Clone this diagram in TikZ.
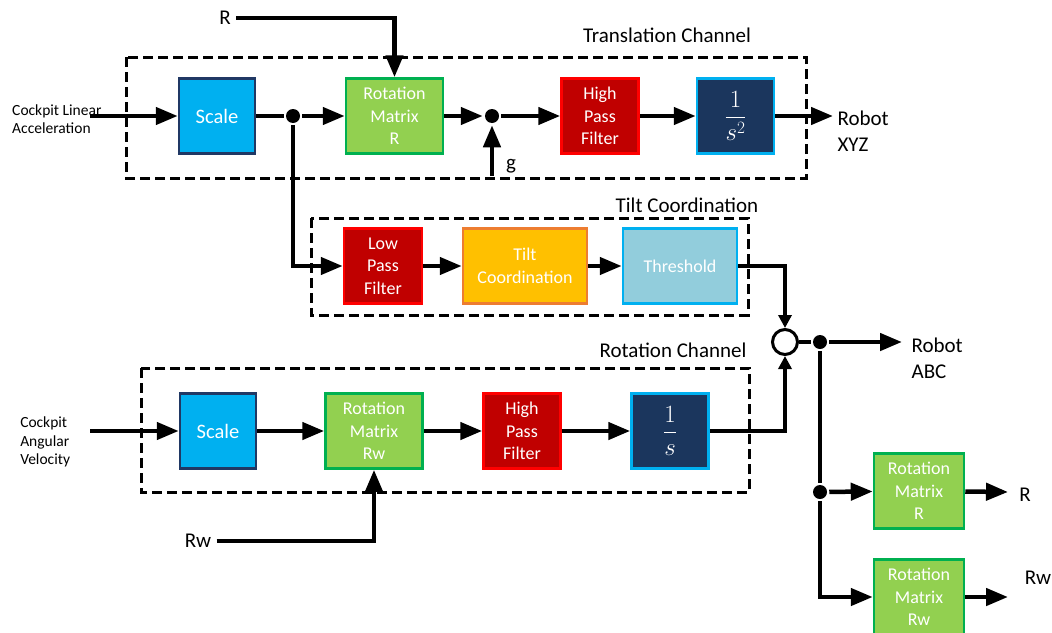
\documentclass[tikz,border=0pt]{standalone}
\usepackage{fontspec}
\setmainfont{Carlito}
\usetikzlibrary{arrows.meta}
\definecolor{scalefill}{HTML}{00B0F0}
\definecolor{scaleline}{HTML}{203864}
\definecolor{rotfill}{HTML}{92D050}
\definecolor{rotline}{HTML}{00B050}
\definecolor{passfill}{HTML}{C00000}
\definecolor{passline}{HTML}{FF0000}
\definecolor{intfill}{HTML}{1B365D}
\definecolor{intline}{HTML}{00B0F0}
\definecolor{tiltfill}{HTML}{FFC000}
\definecolor{tiltline}{HTML}{ED7D31}
\definecolor{thrfill}{HTML}{92CDDC}
\begin{document}
\begin{tikzpicture}[x=1pt, y=-1pt, line width=4.5pt,
	flow/.style={-{Triangle[length=22pt,width=17pt]}},
	flowsm/.style={-{Triangle[length=13pt,width=13pt]}},
	blk/.style={rectangle, draw, line width=2.5pt, text=white, align=center, inner sep=0pt, minimum height=75pt, font=\fontsize{18}{22.5}\selectfont},
	scl/.style={blk, fill=scalefill, draw=scaleline, minimum width=76pt, font=\fontsize{20.5}{24}\selectfont},
	rot/.style={blk, fill=rotfill, draw=rotline},
	pass/.style={blk, fill=passfill, draw=passline, minimum width=77pt},
	integ/.style={blk, fill=intfill, draw=intline, minimum width=77pt, font=\fontsize{25}{30}\selectfont},
	grp/.style={draw, line width=3pt, dash pattern=on 10pt off 5pt},
	dot/.style={circle, fill, inner sep=0pt, minimum size=14pt},
	lbl/.style={font=\fontsize{21}{26}\selectfont, align=left},
	inlbl/.style={font=\fontsize{15.5}{18.5}\selectfont, align=left, anchor=west, inner sep=0pt}]
	\useasboundingbox (0,0) rectangle (1052,632);

	% channels
	\draw[grp] (126,57) rectangle (806,178);
	\draw[grp] (311,218) rectangle (748,315);
	\draw[grp] (141,368) rectangle (749,492);
	\node (trlab) at (667,35)	[lbl]	{Translation Channel};
	\node (tclab) at (687,205)	[lbl]	{Tilt Coordination};
	\node (rclab) at (673,350)	[lbl]	{Rotation Channel};

	% translation channel
	\node (cla) at (10,119)	[inlbl]	{Cockpit Linear\\Acceleration};
	\coordinate (claend) at (90,116);
	\node (scT) at (217,116)	[scl]	{Scale};
	\node (jT) at (293,116)	[dot]	{};
	\node (rmR) at (394.5,116)	[rot, minimum width=97pt]	{Rotation\\Matrix\\R};
	\node (jG) at (492,116)	[dot]	{};
	\node (hpT) at (600,116)	[pass]	{High\\Pass\\Filter};
	\node (intT) at (735.5,116)	[integ]	{$\displaystyle\frac{1}{s^2}$};
	\node (Rtop) at (225,18)	[lbl]	{R};
	\node (g) at (511,166)	[lbl]	{g};
	\coordinate (gin) at (492,176);
	\coordinate (xyzin) at (833,116);
	\node (xyz) at (832,131)	[lbl, anchor=west]	{Robot\\XYZ};
	\draw[flow] (claend) -- (scT);
	\draw (scT) -- (jT);
	\draw[flow] (jT) -- (rmR);
	\draw[flow] (Rtop.east) -| (rmR);
	\draw[flow] (rmR) -- (jG);
	\draw[flow] (gin) -- (jG);
	\draw[flow] (jG) -- (hpT);
	\draw[flow] (hpT) -- (intT);
	\draw[flow] (intT) -- (xyzin);

	% tilt coordination
	\node (lpf) at (383,266)	[pass, minimum width=78pt]	{Low\\Pass\\Filter};
	\node (tilt) at (525,266)	[blk, fill=tiltfill, draw=tiltline, minimum width=124pt]	{Tilt\\Coordination};
	\node (thr) at (680,266)	[blk, fill=thrfill, draw=intline, minimum width=114pt]	{Threshold};
	\node (sum) at (785,342)	[circle, draw, line width=3pt, fill=white, inner sep=0pt, minimum size=25pt]	{};
	\draw[flow] (jT) |- (lpf);
	\draw[flow] (lpf) -- (tilt);
	\draw[flow] (tilt) -- (thr);
	\draw[flowsm] (thr) -| (sum);

	% rotation channel
	\node (cav) at (18,442)	[inlbl]	{Cockpit\\Angular\\Velocity};
	\coordinate (cavend) at (90,431);
	\node (scR) at (218,431)	[scl]	{Scale};
	\node (rmRw) at (374,431)	[rot, minimum width=97pt]	{Rotation\\Matrix\\Rw};
	\node (hpR) at (522,431)	[pass]	{High\\Pass\\Filter};
	\node (intR) at (670,431)	[integ]	{$\displaystyle\frac{1}{s}$};
	\node (Rwin) at (198,541)	[lbl]	{Rw};
	\draw[flow] (cavend) -- (scR);
	\draw[flow] (scR) -- (rmRw);
	\draw[flow] (rmRw) -- (hpR);
	\draw[flow] (hpR) -- (intR);
	\draw[flowsm] (intR) -| (sum);
	\draw[flow] (Rwin.east) -| (rmRw);

	% outputs
	\node (jA) at (820,342)	[dot]	{};
	\node (jB) at (820,492)	[dot]	{};
	\coordinate (abcin) at (902,342);
	\node (abc) at (906,358)	[lbl, anchor=west]	{Robot\\ABC};
	\node (rmR2) at (919,491)	[rot, minimum width=90pt]	{Rotation\\Matrix\\R};
	\node (rmRw2) at (919,597)	[rot, minimum width=90pt]	{Rotation\\Matrix\\Rw};
	\coordinate (Rout) at (1008,492);
	\coordinate (Rwout) at (1008,597);
	\node (Rlab) at (1025,495)	[lbl]	{R};
	\node (Rwlab) at (1038,578)	[lbl]	{Rw};
	\draw (sum) -- (jA);
	\draw[flow] (jA) -- (abcin);
	\draw (jA) -- (jB);
	\draw[flow] (jB) -- (rmR2);
	\draw[flow] (jB) |- (rmRw2);
	\draw[flow] (rmR2) -- (Rout);
	\draw[flow] (rmRw2) -- (Rwout);
\end{tikzpicture}
\end{document}
